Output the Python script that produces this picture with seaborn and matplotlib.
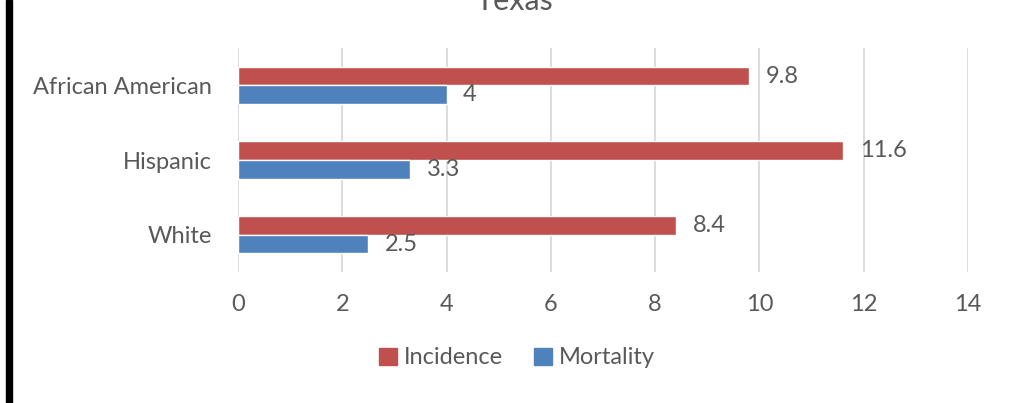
import matplotlib
matplotlib.use("Agg")
import matplotlib.pyplot as plt
import seaborn as sns
import pandas as pd
from matplotlib.patches import Rectangle

categories = ["African American", "Hispanic", "White"]
incidence = [9.8, 11.6, 8.4]
mortality = [4, 3.3, 2.5]
series = ["Incidence", "Mortality"]
xticks = [0, 2, 4, 6, 8, 10, 12, 14]
title = "Texas"

sns.set_theme(style="white")
plt.rcParams['font.family'] = ['Lato', 'DejaVu Sans']

RED = "#C0504D"
BLUE = "#4F81BD"
TXT = "#595959"

df = pd.DataFrame({
    "cat": categories * 2,
    "val": incidence + mortality,
    "series": [series[0]] * 3 + [series[1]] * 3,
})

fig = plt.figure(figsize=(10.27, 4.03), dpi=100)
ax = fig.add_axes([238/1027, 1 - 272/403, (968-238)/1027, (272-48)/403])

sns.barplot(data=df, x="val", y="cat", hue="series", order=categories,
            hue_order=series, palette=[RED, BLUE], width=0.5, dodge=True,
            orient="h", ax=ax, legend=False, saturation=1)

for cont in ax.containers:
    ax.bar_label(cont, labels=[f"{v:g}" for v in cont.datavalues], padding=12,
                 fontsize=17, color=TXT)

ax.set_xlim(0, 14)
ax.set_ylim(2.5, -0.5)
ax.set_xticks(xticks)
ax.set_xticklabels([str(t) for t in xticks])
ax.xaxis.grid(True, color="#D9D9D9", linewidth=1.3)
ax.yaxis.grid(False)
ax.set_axisbelow(True)
for s in ax.spines.values():
    s.set_visible(False)
ax.set_xlabel("")
ax.set_ylabel("")
ax.tick_params(axis="both", length=0, labelsize=17, labelcolor=TXT)
ax.tick_params(axis="x", pad=16)
ax.tick_params(axis="y", pad=19)

fig.text(514/1027, 1 - 1/403, title, ha="center", va="center", fontsize=22, color=TXT)

handles = [Rectangle((0, 0), 1, 1, color=RED), Rectangle((0, 0), 1, 1, color=BLUE)]
fig.legend(handles, series, loc="center", bbox_to_anchor=(517/1027, 1 - 358/403),
           ncol=2, frameon=False, fontsize=17, handlelength=0.75, handleheight=0.75,
           handletextpad=0.3, columnspacing=1.3, labelcolor=TXT)

fig.add_artist(Rectangle((6/1027, 0), 6/1027, 1, transform=fig.transFigure,
                         color="black", zorder=10))

fig.savefig("out.png", dpi=100)
